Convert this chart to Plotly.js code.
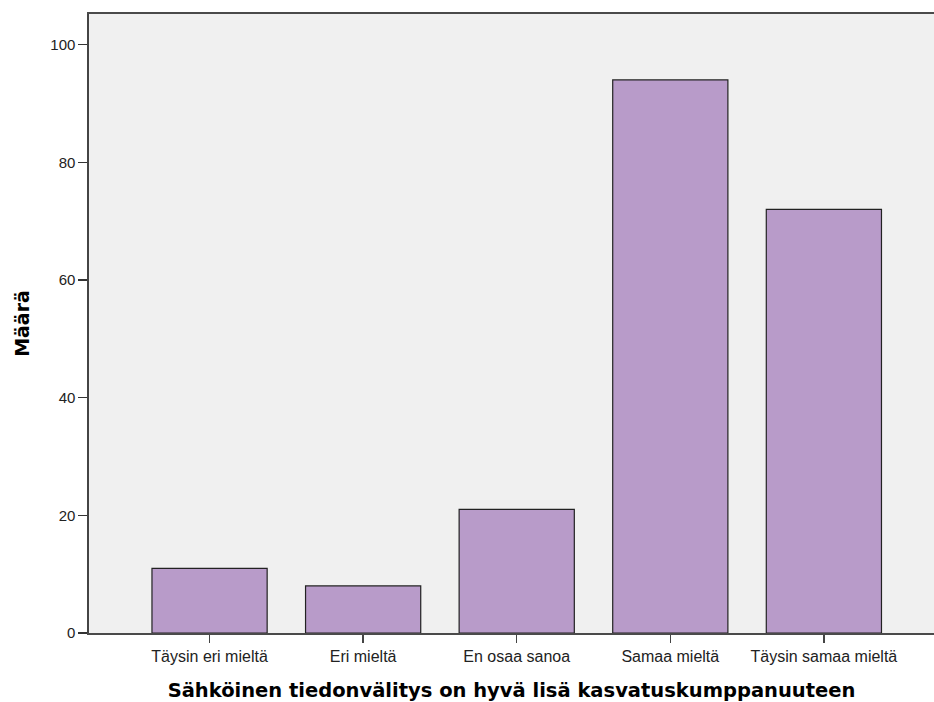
<!DOCTYPE html>
<html>
<head>
<meta charset="utf-8">
<script src="https://cdn.plot.ly/plotly-3.0.1.min.js"></script>
<style>html,body{margin:0;padding:0;background:#fff;}#chart{width:934px;height:702px;}</style>
</head>
<body>
<div id="chart"></div>
<script>
const categories = ["Täysin eri mieltä", "Eri mieltä", "En osaa sanoa", "Samaa mieltä", "Täysin samaa mieltä"];
const counts = [11, 8, 21, 94, 72];
const yTicks = [0, 20, 40, 60, 80, 100];
const xTitle = "Sähköinen tiedonvälitys on hyvä lisä kasvatuskumppanuuteen";
const yTitle = "Määrä";

const trace = {
  type: "bar",
  x: categories,
  y: counts,
  width: 0.75,
  marker: {color: "#b89bc9", line: {color: "#222222", width: 1.2}},
  hoverinfo: "x+y"
};

const layout = {
  width: 934,
  height: 702,
  margin: {l: 89, r: 0, t: 14, b: 69},
  paper_bgcolor: "#ffffff",
  plot_bgcolor: "#f0f0f0",
  showlegend: false,
  xaxis: {
    type: "category",
    range: [-0.785, 4.717],
    showgrid: false,
    zeroline: false,
    showline: true,
    mirror: true,
    linecolor: "#4a4a4a",
    linewidth: 1.6,
    ticks: "outside",
    ticklen: 8,
    tickwidth: 1.5,
    tickcolor: "#444444",
    tickfont: {family: "Liberation Sans, Arial, sans-serif", size: 16, color: "#222222"},
    title: {text: xTitle, font: {family: "DejaVu Sans, sans-serif", size: 19.5, color: "#000000", weight: "bold"}, standoff: 20},
    fixedrange: true
  },
  yaxis: {
    range: [0, 105.2],
    tickvals: yTicks,
    ticktext: yTicks.map(String),
    showgrid: false,
    zeroline: false,
    showline: true,
    linecolor: "#444444",
    linewidth: 1.6,
    ticks: "outside",
    ticklen: 9,
    tickwidth: 1.5,
    tickcolor: "#333333",
    tickfont: {family: "Liberation Sans, Arial, sans-serif", size: 15, color: "#222222"},
    title: {text: yTitle, font: {family: "DejaVu Sans, sans-serif", size: 19, color: "#000000", weight: "bold"}, standoff: 16},
    fixedrange: true
  }
};

Plotly.newPlot("chart", [trace], layout, {displayModeBar: false, staticPlot: true});
</script>
</body>
</html>
